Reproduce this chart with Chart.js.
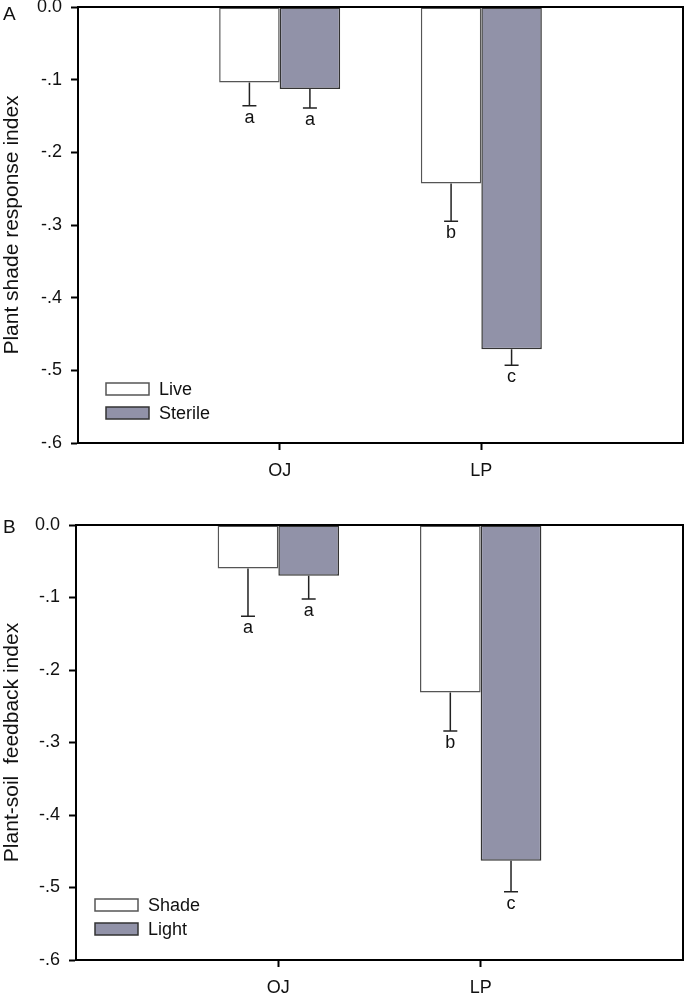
<!DOCTYPE html>
<html>
<head>
<meta charset="utf-8">
<script src="https://cdn.jsdelivr.net/npm/chart.js@4.4.1/dist/chart.umd.min.js"></script>
<style>
  html, body { margin: 0; padding: 0; background: #fff; }
  #wrap { position: relative; width: 685px; height: 996px; }
  #wrap canvas { position: absolute; left: 0; }
  #chart-a { top: 0; }
  #chart-b { top: 490px; }
</style>
</head>
<body>
<div id="wrap">
  <canvas id="chart-a" width="685" height="490"></canvas>
  <canvas id="chart-b" width="685" height="506"></canvas>
</div>
<script>
// ==========================
// DATA
// ==========================
const categories = ["", "OJ", "LP", ""];
const yTicks = [0, -0.1, -0.2, -0.3, -0.4, -0.5, -0.6];

// Panel A - plant shade response index
const liveMeans = [null, -0.104, -0.243, null];
const liveSE = [null, 0.032, 0.052, null];
const liveLetters = [null, "a", "b", null];
const sterileMeans = [null, -0.113, -0.471, null];
const sterileSE = [null, 0.026, 0.022, null];
const sterileLetters = [null, "a", "c", null];

// Panel B - plant-soil feedback index
const shadeMeans = [null, -0.060, -0.231, null];
const shadeSE = [null, 0.066, 0.053, null];
const shadeLetters = [null, "a", "b", null];
const lightMeans = [null, -0.070, -0.463, null];
const lightSE = [null, 0.032, 0.043, null];
const lightLetters = [null, "a", "c", null];

const FONT = "Arial, 'Liberation Sans', Helvetica, sans-serif";
const GREY = "#9192a8";

// ==========================
// PLUGINS
// ==========================
// one-sided (downward) error bars + significance letters
const errorBars = {
  id: "errorBars",
  afterDatasetsDraw(chart) {
    const ctx = chart.ctx;
    const y = chart.scales.y;
    chart.data.datasets.forEach((ds, di) => {
      const meta = chart.getDatasetMeta(di);
      meta.data.forEach((bar, i) => {
        const v = ds.data[i];
        if (v == null) return;
        const yBar = y.getPixelForValue(v);
        const yCap = y.getPixelForValue(v - ds.errors[i]);
        ctx.save();
        ctx.strokeStyle = "#222";
        ctx.lineWidth = 1.5;
        ctx.beginPath();
        ctx.moveTo(bar.x, yBar);
        ctx.lineTo(bar.x, yCap);
        ctx.moveTo(bar.x - 7, yCap);
        ctx.lineTo(bar.x + 7, yCap);
        ctx.stroke();
        ctx.fillStyle = "#111";
        ctx.font = "18px " + FONT;
        ctx.textAlign = "center";
        ctx.textBaseline = "top";
        ctx.fillText(ds.letters[i], bar.x, yCap + 3);
        ctx.restore();
      });
    });
  }
};

// frame on top/right, legend in the plot corner, panel letter
const decor = {
  id: "decor",
  afterDraw(chart, args, opts) {
    const ctx = chart.ctx;
    const a = chart.chartArea;
    ctx.save();
    ctx.strokeStyle = "#000";
    ctx.lineWidth = 2;
    ctx.beginPath();
    ctx.moveTo(a.left, a.top);
    ctx.lineTo(a.right, a.top);
    ctx.lineTo(a.right, a.bottom);
    ctx.stroke();

    // legend
    chart.data.datasets.forEach((ds, i) => {
      const bx = opts.legendX;
      const by = opts.legendY + i * opts.legendGap;
      ctx.fillStyle = ds.backgroundColor;
      ctx.fillRect(bx, by, 43, 12);
      ctx.strokeStyle = ds.borderColor;
      ctx.lineWidth = 1.5;
      ctx.strokeRect(bx, by, 43, 12);
      ctx.fillStyle = "#111";
      ctx.font = "18px " + FONT;
      ctx.textAlign = "left";
      ctx.textBaseline = "middle";
      ctx.fillText(ds.label, bx + 53, by + 7);
    });

    // panel letter
    ctx.fillStyle = "#111";
    ctx.font = "19px " + FONT;
    ctx.textAlign = "left";
    ctx.textBaseline = "middle";
    ctx.fillText(opts.panel, 3, opts.panelY);
    ctx.restore();
  }
};

// ==========================
// CHART BUILDER
// ==========================
function makePanel(id, cfg) {
  return new Chart(document.getElementById(id), {
    type: "bar",
    data: {
      labels: categories,
      datasets: [
        {
          label: cfg.names[0],
          data: cfg.means[0],
          errors: cfg.se[0],
          letters: cfg.letters[0],
          backgroundColor: "#ffffff",
          borderColor: "#555555",
          borderWidth: 1.5,
          borderSkipped: false,
          categoryPercentage: 0.6,
          barPercentage: 1.0
        },
        {
          label: cfg.names[1],
          data: cfg.means[1],
          errors: cfg.se[1],
          letters: cfg.letters[1],
          backgroundColor: GREY,
          borderColor: "#333333",
          borderWidth: 1.5,
          borderSkipped: false,
          categoryPercentage: 0.6,
          barPercentage: 1.0
        }
      ]
    },
    options: {
      responsive: false,
      animation: false,
      layout: { padding: { top: cfg.padTop, right: 2, left: 0, bottom: 0 } },
      plugins: {
        legend: { display: false },
        tooltip: { enabled: false },
        decor: cfg.decor
      },
      scales: {
        x: {
          offset: false,
          grid: {
            offset: false,
            drawOnChartArea: false,
            tickLength: 7,
            tickWidth: 2,
            tickColor: c => (c.tick && c.tick.label === "" ? "rgba(0,0,0,0)" : "#000")
          },
          border: { color: "#000", width: 2 },
          ticks: {
            color: "#111",
            padding: 10,
            maxRotation: 0,
            autoSkip: false,
            font: { family: FONT, size: 18 }
          },
          afterFit: s => {
            s.height = cfg.xHeight;
            s.paddingLeft = 0;
            s.paddingRight = 0;
          }
        },
        y: {
          min: -0.6,
          max: 0,
          afterBuildTicks: s => { s.ticks = yTicks.map(v => ({ value: v })); },
          grid: {
            drawOnChartArea: false,
            tickLength: 7,
            tickWidth: 2,
            tickColor: "#000"
          },
          border: { color: "#000", width: 2 },
          ticks: {
            color: "#111",
            padding: 9,
            font: { family: FONT, size: 18 },
            callback: v => (v === 0 ? "0.0" : "-" + Math.abs(v).toFixed(1).replace(/^0/, ""))
          },
          title: {
            display: true,
            text: cfg.yTitle,
            color: "#111",
            padding: { top: 0, bottom: 0 },
            font: { family: FONT, size: 21 }
          },
          afterFit: s => {
            s.width = cfg.yWidth;
            s.paddingTop = 0;
            s.paddingBottom = 0;
          }
        }
      }
    },
    plugins: [errorBars, decor]
  });
}

makePanel("chart-a", {
  names: ["Live", "Sterile"],
  means: [liveMeans, sterileMeans],
  se: [liveSE, sterileSE],
  letters: [liveLetters, sterileLetters],
  yTitle: "Plant shade response index",
  padTop: 7,
  xHeight: 47,
  yWidth: 78,
  decor: { panel: "A", panelY: 15, legendX: 106, legendY: 383, legendGap: 24 }
});

makePanel("chart-b", {
  names: ["Shade", "Light"],
  means: [shadeMeans, lightMeans],
  se: [shadeSE, lightSE],
  letters: [shadeLetters, lightLetters],
  yTitle: "Plant-soil  feedback index",
  padTop: 35,
  xHeight: 36,
  yWidth: 76,
  decor: { panel: "B", panelY: 38, legendX: 95, legendY: 409, legendGap: 24 }
});
</script>
</body>
</html>
